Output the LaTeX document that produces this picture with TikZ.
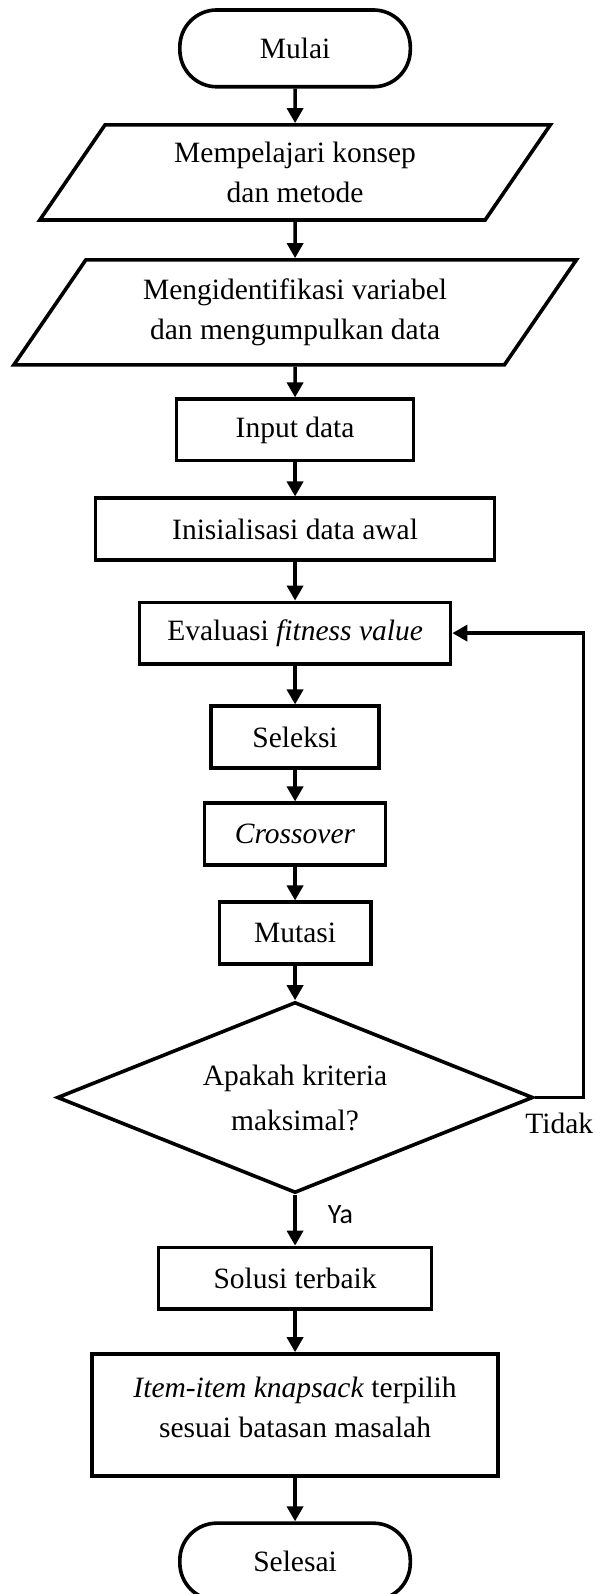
\documentclass[tikz,border=0pt]{standalone}
\usepackage{fontspec}
\setmainfont{Liberation Serif}
\newfontfamily\labelfont{Carlito}
\usetikzlibrary{shapes,arrows.meta,positioning,calc}

\begin{document}
\begin{tikzpicture}[
        proc/.style={rectangle, draw=black, line width=3.6pt, minimum height=2.16cm, align=center, inner sep=0pt, font=\fontsize{29.5}{40}\selectfont},
        terminal/.style={rectangle, rounded corners=1.3cm, draw=black, line width=3.6pt, minimum width=8.1cm, minimum height=2.7cm, inner sep=0pt, font=\fontsize{29.5}{40}\selectfont},
        io/.style={trapezium, trapezium left angle=43, trapezium right angle=137, trapezium stretches body, draw=black, line width=3.6pt, align=center, inner sep=0pt, font=\fontsize{29.5}{40}\selectfont},
        decision/.style={diamond, aspect=2.5, draw=black, line width=3.6pt, minimum width=16.73cm, minimum height=6.71cm, align=center, inner sep=0pt, font=\fontsize{29.5}{45}\selectfont},
        arrow/.style={-{Triangle[length=15pt,width=16pt]}, line width=3.6pt}]

        \useasboundingbox (0,0) rectangle (20.91,-56.02);

        % Nodes
        \node[terminal] (mulai) at (10.37,-1.70) {Mulai};
        \node[io, minimum width=17.94cm, minimum height=3.34cm] (konsep) at (10.37,-6.06) {Mempelajari konsep\\dan metode};
        \node[io, minimum width=19.77cm, minimum height=3.69cm] (ident) at (10.37,-10.98) {Mengidentifikasi variabel\\dan mengumpulkan data};
        \node[proc, minimum width=8.33cm] (input) at (10.37,-15.11) {Input data};
        \node[proc, minimum width=14.02cm] (init) at (10.37,-18.59) {Inisialisasi data awal};
        \node[proc, minimum width=10.93cm] (eval) at (10.37,-22.25) {Evaluasi \textit{fitness value}};
        \node[proc, minimum width=5.90cm] (seleksi) at (10.37,-25.90) {Seleksi};
        \node[proc, minimum width=6.36cm] (cross) at (10.37,-29.31) {\textit{Crossover}};
        \node[proc, minimum width=5.32cm] (mutasi) at (10.37,-32.79) {Mutasi};
        \node[decision] (kriteria) at (10.37,-38.57) {Apakah kriteria\\maksimal?};
        \node[proc, minimum width=9.59cm] (solusi) at (10.37,-44.92) {Solusi terbaik};
        \node[proc, minimum width=14.27cm, minimum height=4.29cm, text depth=16pt] (item) at (10.37,-49.73) {\textit{Item-item knapsack} terpilih\\sesuai batasan masalah};
        \node[terminal] (selesai) at (10.37,-54.88) {Selesai};

        % Connections
        \draw[arrow] (mulai) -- (konsep);
        \draw[arrow] (konsep) -- (ident);
        \draw[arrow] (ident) -- (input);
        \draw[arrow] (input) -- (init);
        \draw[arrow] (init) -- (eval);
        \draw[arrow] (eval) -- (seleksi);
        \draw[arrow] (seleksi) -- (cross);
        \draw[arrow] (cross) -- (mutasi);
        \draw[arrow] (mutasi) -- (kriteria);
        \draw[arrow] (kriteria) -- node[pos=0.39, right, xshift=31pt, inner sep=0pt, font=\labelfont\fontsize{28}{34}\selectfont]{Ya} (solusi);
        \draw[arrow] (solusi) -- (item);
        \draw[arrow] (item) -- (selesai);

        % Loop back when the criterion is not reached
        \draw[arrow] (kriteria.east) -- node[midway, below, yshift=-14pt, inner sep=0pt, font=\fontsize{29.5}{40}\selectfont]{Tidak} ++(1.71,0) |- (eval.east);

    \end{tikzpicture}
\end{document}
